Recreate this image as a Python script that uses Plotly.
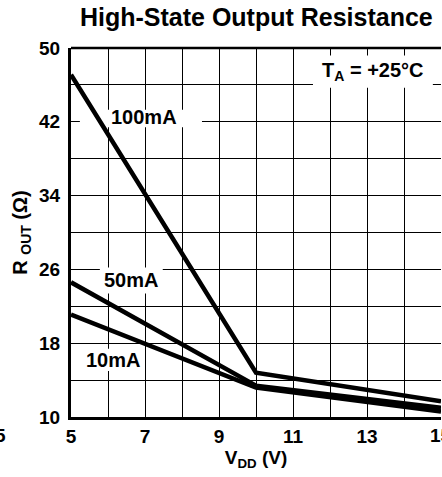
import plotly.graph_objects as go

# Data
vdd = [5, 10, 15]
r_100ma = [47.1, 14.8, 11.7]
r_50ma = [24.6, 13.4, 11.0]
r_10ma = [21.1, 13.2, 10.6]

series_names = ["100mA", "50mA", "10mA"]
x_ticks = [5, 7, 9, 11, 13, 15]
y_ticks = [10, 18, 26, 34, 42, 50]

FONT = "Liberation Sans, Arial, sans-serif"

fig = go.Figure()
for name, vals in zip(series_names, [r_100ma, r_50ma, r_10ma]):
    fig.add_trace(go.Scatter(x=vdd, y=vals, mode="lines", name=name,
                             line=dict(color="black", width=4.5),
                             showlegend=False, hoverinfo="skip"))

# white label boxes drawn between gridlines and traces
boxes = [
    (5.24, 8.54, 41.4, 43.3),   # 100mA
    (5.78, 7.48, 23.4, 26.2),   # 50mA
    (5.33, 6.95, 15.0, 17.4),   # 10mA
    (11.54, 14.78, 45.7, 49.2), # TA
]
for x0, x1, y0, y1 in boxes:
    fig.add_shape(type="rect", xref="x", yref="y", x0=x0, x1=x1, y0=y0, y1=y1,
                  fillcolor="white", line=dict(width=0), layer="between")

# top border
fig.add_shape(type="line", xref="paper", yref="paper", x0=0, x1=1, y0=1, y1=1,
              line=dict(color="black", width=2.5), layer="above")

lab_font = dict(family=FONT, size=20, color="black")
tick_font = dict(family=FONT, size=19, color="black")
fig.add_annotation(x=6.98, y=42.5, xref="x", yref="y", text="<b>100mA</b>",
                   showarrow=False, font=lab_font)
fig.add_annotation(x=6.63, y=24.8, xref="x", yref="y", text="<b>50mA</b>",
                   showarrow=False, font=lab_font)
fig.add_annotation(x=6.14, y=16.2, xref="x", yref="y", text="<b>10mA</b>",
                   showarrow=False, font=lab_font)
fig.add_annotation(x=13.16, y=47.5, xref="x", yref="y",
                   text="<b>T<sub>A</sub> = +25°C</b>",
                   showarrow=False, font=lab_font)
# last x tick label, cut by the right edge as in the reference
fig.add_annotation(x=x_ticks[-1], y=0.0, xref="x", yref="paper", yshift=-18,
                   text=f"<b>{x_ticks[-1]}</b>", showarrow=False, font=tick_font,
                   xanchor="center", yanchor="middle")
# cropped neighbouring tick label at far left
fig.add_annotation(x=-0.19, y=0.0, xref="paper", yref="paper", yshift=-18,
                   text="<b>5</b>", showarrow=False, font=tick_font,
                   xanchor="center", yanchor="middle")

grid = dict(color="#000000", width=1.2)

fig.update_layout(
    width=442, height=477,
    margin=dict(l=71, r=1, t=48, b=60, autoexpand=False),
    paper_bgcolor="white", plot_bgcolor="white",
    title=dict(text="<b>High-State Output Resistance</b>", x=0.58, xanchor="center",
               y=0.964, yanchor="middle",
               font=dict(family=FONT, size=25, color="black")),
    font=dict(family=FONT, color="black"),
    xaxis=dict(range=[5, 15], tickmode="array", tickvals=x_ticks[:-1],
               ticktext=[f"<b>{v}</b>" for v in x_ticks[:-1]],
               showgrid=True, gridcolor=grid["color"], gridwidth=grid["width"],
               minor=dict(dtick=1, tick0=5, showgrid=True, gridcolor=grid["color"],
                          gridwidth=grid["width"]),
               showline=True, linecolor="black", linewidth=3, zeroline=False,
               ticks="", ticklabelstandoff=0,
               tickfont=tick_font,
               title=dict(text="<b>V<sub>DD</sub> (V)</b>", standoff=1,
                          font=dict(family=FONT, size=19, color="black"))),
    yaxis=dict(range=[10, 50], tickmode="array", tickvals=y_ticks,
               ticktext=[f"<b>{v}</b>" for v in y_ticks],
               showgrid=True, gridcolor=grid["color"], gridwidth=grid["width"],
               minor=dict(dtick=4, tick0=10, showgrid=True, gridcolor=grid["color"],
                          gridwidth=grid["width"]),
               showline=True, linecolor="black", linewidth=3, zeroline=False,
               ticks="", ticklabelstandoff=4,
               tickfont=tick_font,
               title=dict(text="<b>R <sub>OUT</sub> (Ω)</b>", standoff=7,
                          font=dict(family=FONT, size=20, color="black"))),
)

fig.write_html("out.html", config={"displayModeBar": False},
               post_script="document.body.style.margin='0';document.body.style.padding='0';")
